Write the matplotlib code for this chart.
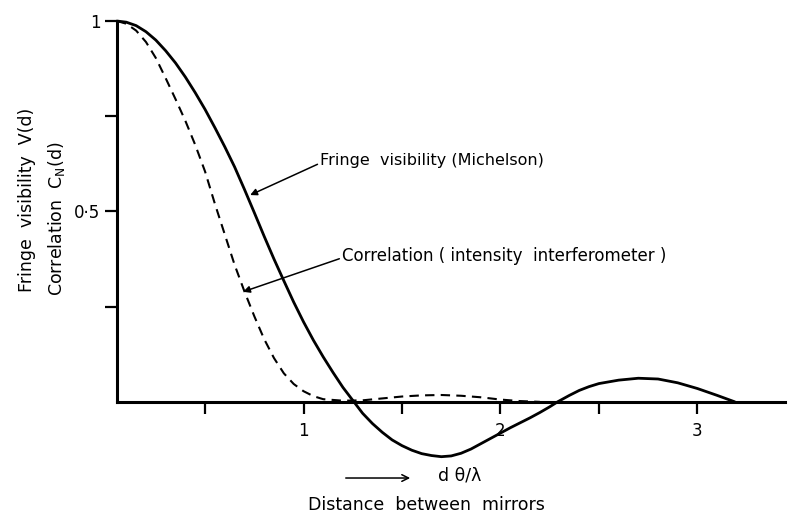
import numpy as np
import matplotlib
matplotlib.use('Agg')
import matplotlib.pyplot as plt

plt.rcParams['font.family'] = ['DejaVu Sans']
plt.rcParams['mathtext.default'] = 'regular'

# values (x in d*theta/lambda, y in V or C_N)
vis_x = [0.053, 0.1, 0.15, 0.2, 0.25, 0.3, 0.35, 0.4, 0.45, 0.5,
         0.55, 0.6, 0.65, 0.7, 0.75, 0.8, 0.85, 0.9, 0.95, 1.0,
         1.05, 1.1, 1.15, 1.2, 1.25, 1.3, 1.35, 1.4, 1.45, 1.5,
         1.55, 1.6, 1.65, 1.7, 1.75, 1.8, 1.85, 1.9, 1.95, 2.0,
         2.05, 2.1, 2.15, 2.2, 2.25, 2.29, 2.35, 2.4, 2.45, 2.5,
         2.6, 2.7, 2.8, 2.9, 3.0, 3.1, 3.19]
vis_y = [1.0, 0.997, 0.988, 0.972, 0.95, 0.922, 0.89, 0.853, 0.812, 0.768,
         0.72, 0.67, 0.617, 0.558, 0.497, 0.435, 0.375, 0.318, 0.262, 0.21,
         0.162, 0.118, 0.077, 0.038, 0.004, -0.03, -0.057, -0.08, -0.1, -0.115,
         -0.127, -0.136, -0.141, -0.144, -0.142, -0.135, -0.124, -0.11, -0.096, -0.082,
         -0.068, -0.055, -0.042, -0.028, -0.013, 0.0, 0.017, 0.03, 0.04, 0.048,
         0.057, 0.062, 0.06, 0.05, 0.035, 0.017, 0.0]

corr_x = [0.053, 0.1, 0.15, 0.2, 0.25, 0.3, 0.35, 0.4, 0.45, 0.5,
          0.55, 0.6, 0.65, 0.7, 0.75, 0.8, 0.85, 0.9, 0.95, 1.0,
          1.05, 1.1, 1.2, 1.3, 1.4, 1.5, 1.6, 1.7, 1.8, 1.9,
          2.0, 2.1, 2.2]
corr_y = [1.0, 0.993, 0.975, 0.945, 0.903, 0.85, 0.795, 0.738, 0.675, 0.605,
          0.52, 0.44, 0.36, 0.29, 0.225, 0.165, 0.115, 0.075, 0.047, 0.028,
          0.015, 0.007, 0.003, 0.004, 0.009, 0.014, 0.017, 0.018, 0.016, 0.012,
          0.006, 0.002, 0.0]

x_ticks = [0.5, 1, 1.5, 2, 2.5, 3]
x_labels = ['', '1', '', '2', '', '3']
y_ticks = [0.25, 0.5, 0.75, 1]
y_labels = ['', '0·5', '', '1']

fig = plt.figure(figsize=(7.89, 5.13), dpi=100)
ax = fig.add_axes([0.1483, 0.0682, 0.8467, 0.8908])
ax.set_xlim(0.053, 3.445)
ax.set_ylim(-0.2, 1.0)

ax.plot(vis_x, vis_y, color='black', lw=2.0, clip_on=False, solid_capstyle='round',
        solid_joinstyle='round')
ax.plot(corr_x, corr_y, color='black', lw=1.5, dashes=(4.5, 3), clip_on=False)

for s in ['top', 'right']:
    ax.spines[s].set_visible(False)
ax.spines['left'].set_bounds(0, 1)
ax.spines['bottom'].set_position(('data', 0))
ax.spines['left'].set_linewidth(2.2)
ax.spines['bottom'].set_linewidth(2.2)

ax.set_xticks(x_ticks)
ax.set_xticklabels(x_labels)
ax.set_yticks(y_ticks)
ax.set_yticklabels(y_labels)
ax.tick_params(axis='x', direction='out', length=8.5, width=1.6, labelsize=12, pad=6)
ax.tick_params(axis='y', direction='out', length=9, width=1.6, labelsize=12, pad=3)

ax.annotate('Fringe  visibility (Michelson)', xy=(0.729, 0.543), xytext=(1.085, 0.635),
            fontsize=11.5, va='center', ha='left',
            arrowprops=dict(arrowstyle='-|>', color='black', lw=1.1, mutation_scale=10,
                            shrinkA=0, shrinkB=0, relpos=(0, 0.3)))
ax.annotate('Correlation ( intensity  interferometer )', xy=(0.693, 0.289),
            xytext=(1.196, 0.383), fontsize=12, va='center', ha='left',
            arrowprops=dict(arrowstyle='-|>', color='black', lw=1.1, mutation_scale=10,
                            shrinkA=0, shrinkB=0, relpos=(0, 0.4)))

fig.text(0.034, 0.61, 'Fringe  visibility  V(d)', rotation=90, fontsize=12.5,
         ha='center', va='center')
fig.text(0.072, 0.573, 'Correlation  C$_{N}$(d)', rotation=90, fontsize=12.5,
         ha='center', va='center')

fig.patches.append(matplotlib.patches.FancyArrowPatch(
    (0.4347, 0.0682), (0.5234, 0.0682), transform=fig.transFigure,
    arrowstyle='->', mutation_scale=12, lw=1.1, color='black'))
fig.text(0.583, 0.074, 'd θ/λ', fontsize=12.5, ha='center', va='center')
fig.text(0.54, 0.016, 'Distance  between  mirrors', fontsize=12.5, ha='center', va='center')

fig.savefig('out.png', dpi=100)
